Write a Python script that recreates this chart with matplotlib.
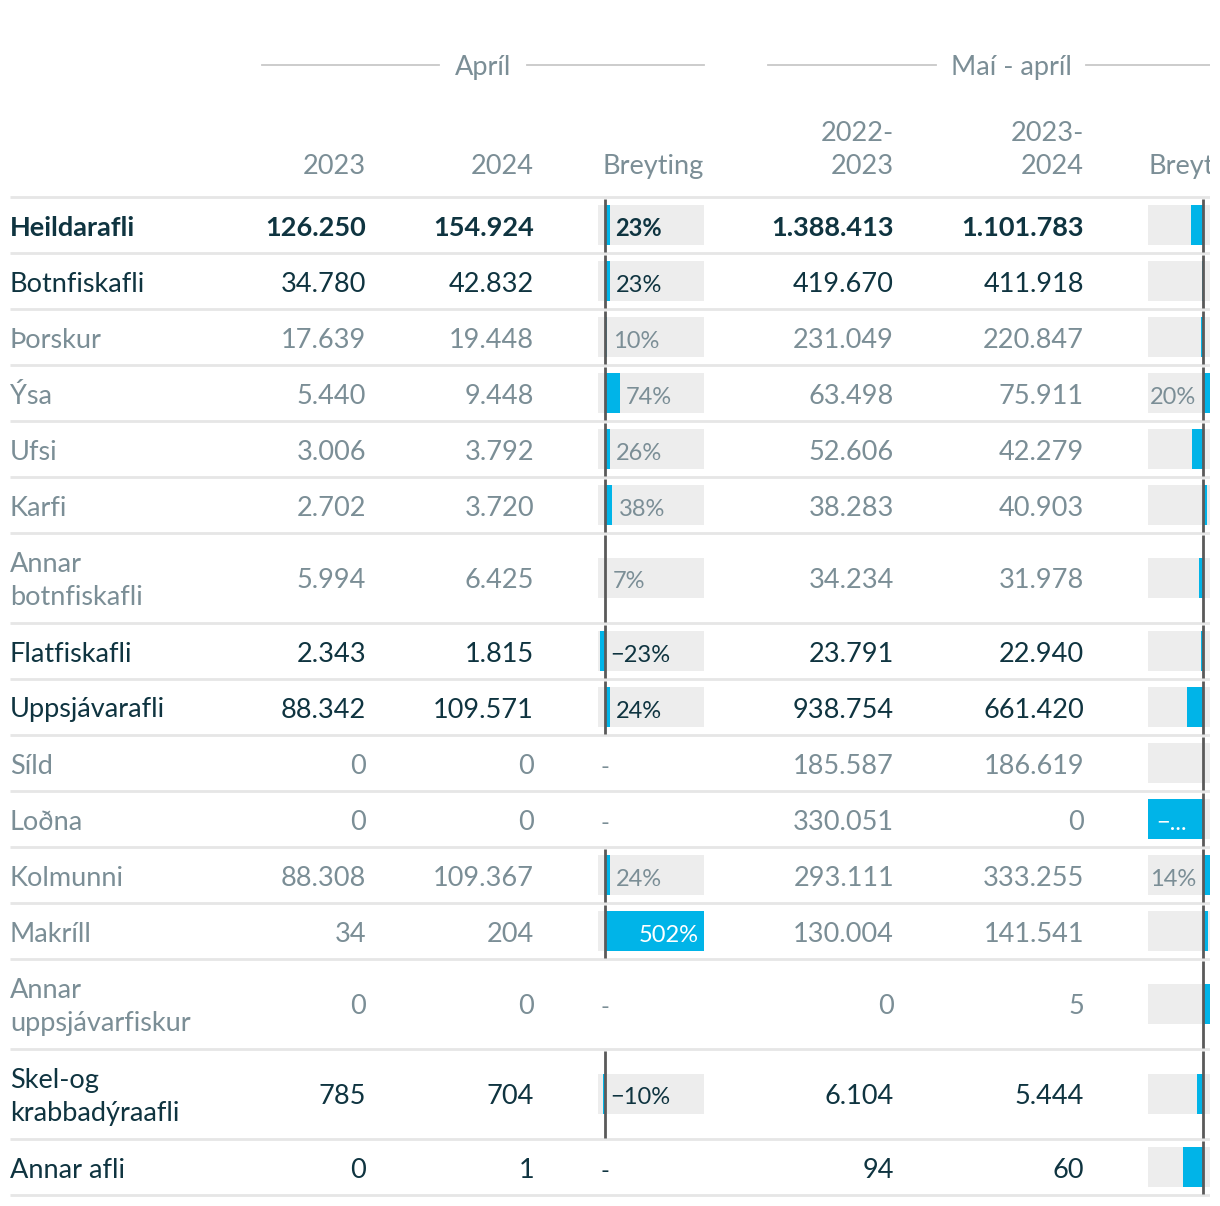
import math
import matplotlib.pyplot as plt

# Données : captures (tonnes) avril et mai-avril
categories = ["Heildarafli", "Botnfiskafli", "Þorskur", "Ýsa", "Ufsi", "Karfi",
              "Annar\nbotnfiskafli", "Flatfiskafli", "Uppsjávarafli", "Síld", "Loðna",
              "Kolmunni", "Makríll", "Annar\nuppsjávarfiskur", "Skel-og\nkrabbadýraafli",
              "Annar afli"]
row_kind = ["bold", "main", "sub", "sub", "sub", "sub", "sub", "main", "main",
            "sub", "sub", "sub", "sub", "sub", "main", "main"]

apr_2023 = [126250, 34780, 17639, 5440, 3006, 2702, 5994, 2343, 88342, 0, 0, 88308, 34, 0, 785, 0]
apr_2024 = [154924, 42832, 19448, 9448, 3792, 3720, 6425, 1815, 109571, 0, 0, 109367, 204, 0, 704, 1]
apr_change = [23, 23, 10, 74, 26, 38, 7, -23, 24, None, None, 24, 502, None, -10, None]

ytd_2223 = [1388413, 419670, 231049, 63498, 52606, 38283, 34234, 23791, 938754,
            185587, 330051, 293111, 130004, 0, 6104, 94]
ytd_2324 = [1101783, 411918, 220847, 75911, 42279, 40903, 31978, 22940, 661420,
            186619, 0, 333255, 141541, 5, 5444, 60]
ytd_change = [-21, -2, -4, 20, -20, 7, -7, -4, -30, 1, -100, 14, 9, math.inf, -11, -36]

# Style
plt.rcParams['font.family'] = ['Lato', 'DejaVu Sans']
DARK = '#0f3440'
GREY = '#7b8e96'
BLUE = '#00b4e8'
BOX = '#ededed'
SEP = '#e6e6e6'
ZERO = '#5a5a5a'
FS = 19.5
FS_PCT = 17
DY = 3      # décalage vertical du texte (px)
DY_PCT = 4  # idem pour les pourcentages

W, H = 1220, 1206
fig = plt.figure(figsize=(W / 100, H / 100), dpi=100)


def px_axes(x0, x1, xlim):
    a = fig.add_axes([x0 / W, 0, (x1 - x0) / W, 1])
    a.set_xlim(*xlim)
    a.set_ylim(H, 0)
    a.axis('off')
    return a


ax = px_axes(0, 1210, (0, 1210))


def fmt_num(v):
    return f"{v:,}".replace(",", ".")


def fmt_pct(v):
    s = f"{abs(round(v))}%"
    return ("\u2212" + s) if v < 0 else s


# Lignes du tableau
top = 197
bounds = [top]
for lab in categories:
    bounds.append(bounds[-1] + (90 if "\n" in lab else 56))
centers = [(a + b) / 2 for a, b in zip(bounds[:-1], bounds[1:])]

for b in bounds:
    ax.plot([10, 1210], [b, b], color=SEP, lw=2, solid_capstyle='butt', zorder=1)

# En-têtes de groupe
for title, x0, x1 in [("Apríl", 262, 704), ("Maí - apríl", 768, 1254)]:
    xc = (x0 + x1) / 2
    ax.text(xc, 67, title, ha='center', va='center', fontsize=FS, color=GREY, clip_on=True)
    half = 44 if len(title) < 6 else 75
    ax.plot([x0, xc - half], [65, 65], color='#c8c8c8', lw=1.3)
    ax.plot([xc + half, x1], [65, 65], color='#c8c8c8', lw=1.3)

col_heads = [("2023", 366), ("2024", 534), ("Breyting", 704),
             ("2022-\n2023", 894), ("2023-\n2024", 1084), ("Breyting", 1250)]
for txt, x in col_heads:
    ax.text(x, 174, txt, ha='right', va='baseline', fontsize=FS, color=GREY,
            linespacing=1.42, clip_on=True)

# Libellés et valeurs
for i, lab in enumerate(categories):
    col = GREY if row_kind[i] == "sub" else DARK
    fw = 'bold' if row_kind[i] == "bold" else 'normal'
    y = centers[i] + DY
    ax.text(10, y, lab, ha='left', va='center', fontsize=FS, color=col, fontweight=fw,
            linespacing=1.42)
    for vals, x in [(apr_2023, 366), (apr_2024, 534), (ytd_2223, 894), (ytd_2324, 1084)]:
        ax.text(x, y, fmt_num(vals[i]), ha='right', va='center', fontsize=FS, color=col,
                fontweight=fw)


def label(a, txt, xy, dx_px, ha, col, fw):
    a.annotate(txt, xy, xytext=(dx_px * 0.72, -DY_PCT * 0.72), textcoords='offset points',
               ha=ha, va='center', fontsize=FS_PCT, color=col, fontweight=fw,
               annotation_clip=False, clip_on=True)


def draw_change(x0, x1, zero_px, px_per_pct, col_right_px, values):
    lo = -(zero_px - x0) / px_per_pct
    hi = (x1 - zero_px) / px_per_pct
    a = px_axes(x0, x1, (lo, hi))
    nominal_hi = (col_right_px - zero_px) / px_per_pct
    for i, v in enumerate(values):
        y = centers[i]
        col = GREY if row_kind[i] == "sub" else DARK
        fw = 'bold' if row_kind[i] == "bold" else 'normal'
        if v is None:
            label(a, "-", (lo, y), 2, 'left', col, fw)
            continue
        a.barh(y, nominal_hi - lo, left=lo, height=40, color=BOX, zorder=1)
        vb = max(min(v, nominal_hi), lo)
        a.barh(y, vb, left=0, height=40, color=BLUE, zorder=2)
        a.plot([0, 0], [bounds[i] + 2, bounds[i + 1] - 1], color=ZERO, lw=2, zorder=3,
               solid_capstyle='butt')
        if not math.isfinite(v):
            continue
        txt = fmt_pct(v)
        bar_px = abs(vb) * px_per_pct
        need = 13 * len(txt) + 10
        if bar_px > 40:
            if bar_px > need and v > 0:
                label(a, txt, (vb, y), -5, 'right', 'white', fw)
            else:
                label(a, "\u2212...", (vb, y), 8, 'left', 'white', fw)
        elif v < 0:
            label(a, txt, (0, y), 5, 'left', col, fw)
        elif zero_px + bar_px + 6 + 13 * len(txt) > col_right_px:
            label(a, txt, (lo, y), 2, 'left', col, fw)
        else:
            label(a, txt, (vb, y), 6, 'left', col, fw)
    return a


draw_change(598, 704, 605, 99 / 502, 704, apr_change)
draw_change(1148, 1210, 1203, 0.55, 1254, ytd_change)

fig.savefig('out.png', dpi=100, facecolor='white')
